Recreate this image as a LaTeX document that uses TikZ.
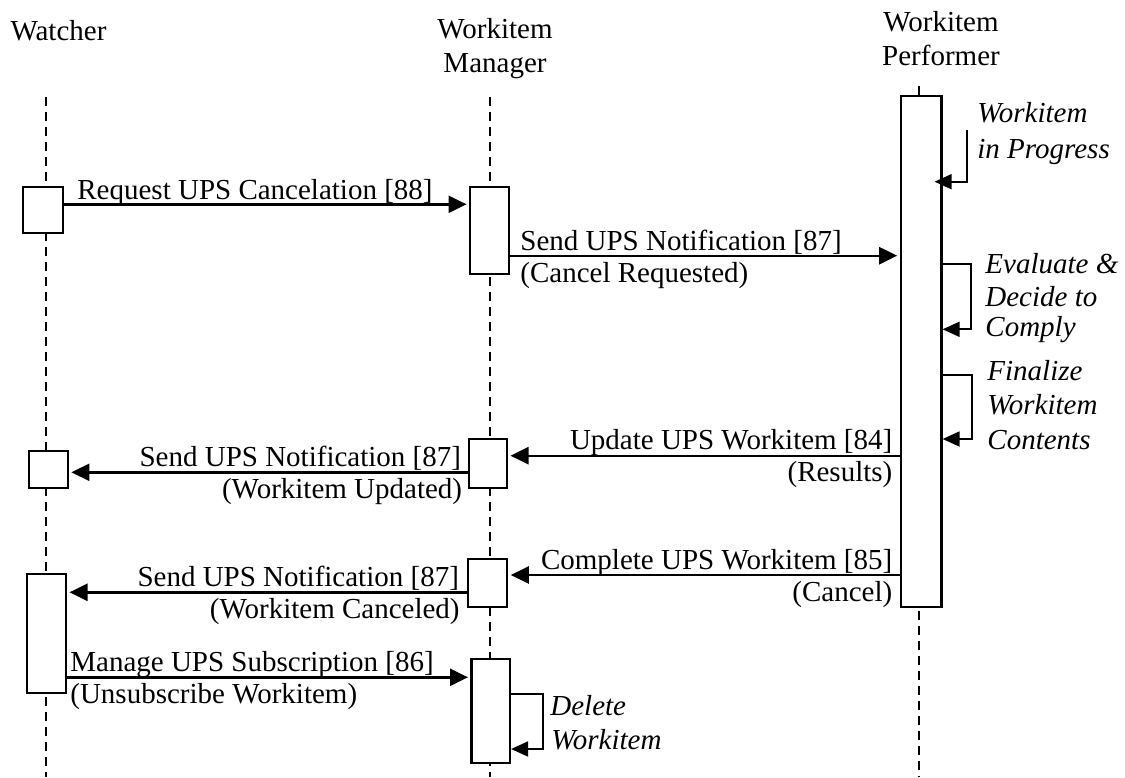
\documentclass[tikz,border=0pt]{standalone}
\usepackage{fontspec}
\setmainfont{Liberation Serif}
\usetikzlibrary{arrows.meta,fit}
\begin{document}
\begin{tikzpicture}[x=0.5pt,y=-0.5pt,
  txt/.style={inner sep=0pt, font=\fontsize{14.5}{17}\selectfont},
  itx/.style={inner sep=0pt, font=\fontsize{14.5}{17}\selectfont\itshape},
  life/.style={line width=0.9pt, dash pattern=on 4.5pt off 3pt},
  actbox/.style={draw, fill=white, line width=1.1pt, inner sep=0pt},
  msg/.style={line width=1.2pt, shorten >=1.2pt, -{Triangle[length=9pt,width=8.5pt]}},
  loopl/.style={line width=0.9pt, -{Triangle[length=8.5pt,width=7.5pt]}}]
\path[use as bounding box] (0,0) rectangle (1125,777);

% headers
\node[txt, anchor=base] (hw) at (58.5,40) {Watcher};
\node[txt, anchor=base] (hm1) at (495,38.5) {Workitem};
\node[txt, anchor=base] (hm2) at (495,72) {Manager};
\node[txt, anchor=base] (hp1) at (941,31.7) {Workitem};
\node[txt, anchor=base] (hp2) at (941,65) {Performer};

% lifelines
\coordinate (wtop) at (45.7,97);  \coordinate (wbot) at (45.7,777);
\coordinate (mtop) at (490,97);   \coordinate (mbot) at (490,777);
\coordinate (ptop) at (919,86);   \coordinate (pbot) at (919,777);
\draw[life] (wtop) -- (wbot);
\draw[life] (mtop) -- (mbot);
\draw[life] (ptop) -- (pbot);

% activation boxes
\node[actbox, fit={(23.3,186.7)(62.7,233.3)}] (w1) {};
\node[actbox, fit={(470,187.3)(509,274.3)}] (m1) {};
\node[actbox, fit={(900.7,95.7)(941.5,607.3)}] (p1) {};
\node[actbox, fit={(28.6,450.7)(67.9,487.7)}] (w2) {};
\node[actbox, fit={(468.6,439.3)(507,487.7)}] (m2) {};
\node[actbox, fit={(468.3,559)(507.3,607.3)}] (m3) {};
\node[actbox, fit={(27.3,574)(66,693.3)}] (w3) {};
\node[actbox, fit={(471.5,659.3)(510,763)}] (m4) {};

% message levels
\coordinate (y1) at (0,204.3);
\coordinate (y2) at (0,255.7);
\coordinate (y3) at (0,455.7);
\coordinate (y4) at (0,472.3);
\coordinate (y5) at (0,575);
\coordinate (y6) at (0,592.3);
\coordinate (y7) at (0,677.3);

\draw[msg] (w1.east |- y1) -- (m1.west |- y1);
\draw[msg] (m1.east |- y2) -- (p1.west |- y2);
\draw[msg] (p1.west |- y3) -- (m2.east |- y3);
\draw[msg] (m2.west |- y4) -- (w2.east |- y4);
\draw[msg] (p1.west |- y5) -- (m3.east |- y5);
\draw[msg] (m3.west |- y6) -- (w3.east |- y6);
\draw[msg] (w3.east |- y7) -- (m4.west |- y7);

% message labels
\node[txt, anchor=base west] (t1) at (77,199.3) {Request UPS Cancelation [88]};
\node[txt, anchor=base west] (t2a) at (520,250) {Send UPS Notification [87]};
\node[txt, anchor=base west] (t2b) at (520,282) {(Cancel Requested)};
\node[txt, anchor=base east] (t3a) at (892.7,449.7) {Update UPS Workitem [84]};
\node[txt, anchor=base east] (t3b) at (892.7,481.7) {(Results)};
\node[txt, anchor=base east] (t4a) at (461.4,466.3) {Send UPS Notification [87]};
\node[txt, anchor=base east] (t4b) at (462.5,498.3) {(Workitem Updated)};
\node[txt, anchor=base east] (t5a) at (892.7,569) {Complete UPS Workitem [85]};
\node[txt, anchor=base east] (t5b) at (892.7,601) {(Cancel)};
\node[txt, anchor=base east] (t6a) at (459.3,586.3) {Send UPS Notification [87]};
\node[txt, anchor=base east] (t6b) at (460,618.3) {(Workitem Canceled)};
\node[txt, anchor=base west] (t7a) at (70,671.3) {Manage UPS Subscription [86]};
\node[txt, anchor=base west] (t7b) at (70,703.3) {(Unsubscribe Workitem)};

% self loops
\coordinate (l1a) at (966.7,130);
\coordinate (l1b) at (966.7,181.7);
\draw[loopl] (l1a) -- (l1b) -- ([xshift=-4pt]l1b -| p1.east);
\coordinate (l2a) at (970.7,264.3);
\coordinate (l2b) at (970.7,329.3);
\draw[loopl] (l2a -| p1.east) -- (l2a) -- (l2b) -- (l2b -| p1.east);
\coordinate (l3a) at (971.7,375);
\coordinate (l3b) at (971.7,439);
\draw[loopl] (l3a -| p1.east) -- (l3a) -- (l3b) -- (l3b -| p1.east);
\coordinate (l4a) at (542.7,694.3);
\coordinate (l4b) at (542.7,749);
\draw[loopl] (l4a -| m4.east) -- (l4a) -- (l4b) -- (l4b -| m4.east);

% loop labels
\node[itx, anchor=base west] (s1a) at (977,122.5) {Workitem};
\node[itx, anchor=base west] (s1b) at (977,158) {in Progress};
\node[itx, anchor=base west] (s2a) at (985,273) {Evaluate \&};
\node[itx, anchor=base west] (s2b) at (985,306) {Decide to};
\node[itx, anchor=base west] (s2c) at (985,336) {Comply};
\node[itx, anchor=base west] (s3a) at (987,380.7) {Finalize};
\node[itx, anchor=base west] (s3b) at (987,414.3) {Workitem};
\node[itx, anchor=base west] (s3c) at (987,449) {Contents};
\node[itx, anchor=base west] (s4a) at (550,715.7) {Delete};
\node[itx, anchor=base west] (s4b) at (551,749) {Workitem};
\end{tikzpicture}
\end{document}
